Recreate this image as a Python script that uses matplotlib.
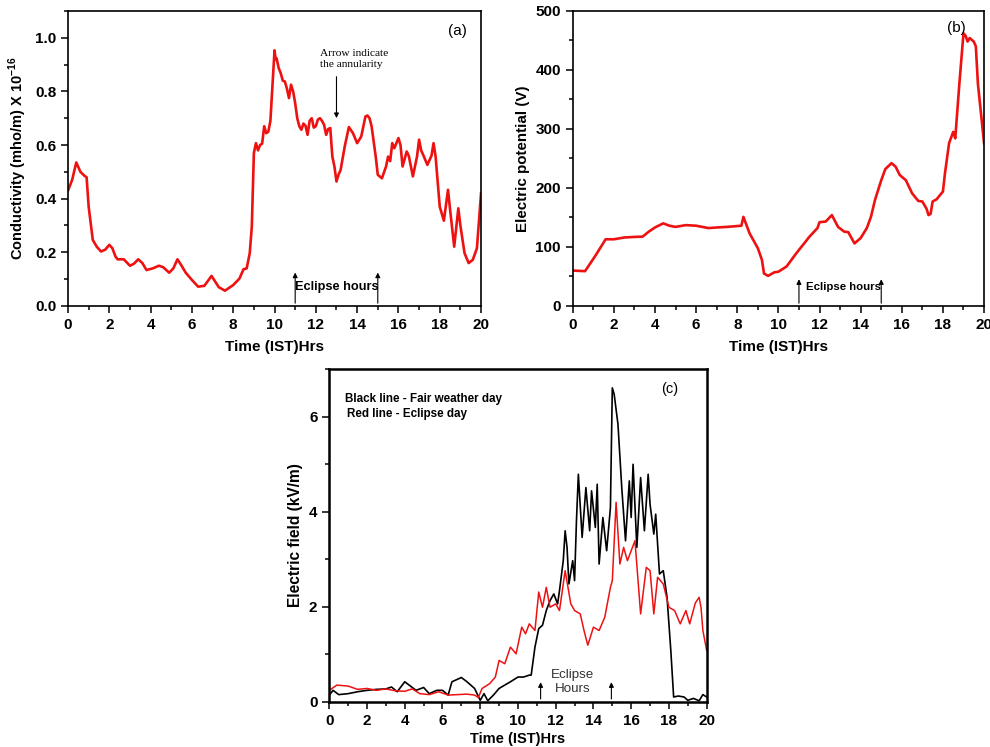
""" Conductivity, potential and field during the eclipse day (three panels). """

import numpy as np
import matplotlib.pyplot as plt
from matplotlib.ticker import MultipleLocator

plt.rcParams['font.family'] = ['Liberation Sans', 'DejaVu Sans']
plt.rcParams['mathtext.fontset'] = 'custom'
plt.rcParams['mathtext.rm'] = 'Liberation Sans'
plt.rcParams['mathtext.bf'] = 'Liberation Sans:bold'

# panel (a) conductivity
t_cond = [0.0, 0.2, 0.4, 0.6, 0.8, 0.9, 1.0, 1.2, 1.4, 1.6, 1.8, 2.0, 2.15, 2.3, 2.4, 2.7, 3.0,
          3.2, 3.4, 3.6, 3.8, 4.1, 4.4, 4.6, 4.9, 5.1, 5.3, 5.5, 5.7, 6.0, 6.3, 6.6, 6.95,
          7.3, 7.6, 8.0, 8.3, 8.5, 8.65, 8.8, 8.9, 9.0, 9.1, 9.2, 9.3, 9.4, 9.5, 9.6, 9.7,
          9.8, 9.9, 10.0, 10.05, 10.1, 10.2, 10.3, 10.4, 10.5, 10.6, 10.7, 10.8, 10.9, 11.0,
          11.1, 11.2, 11.3, 11.4, 11.5, 11.6, 11.7, 11.8, 11.9, 12.0, 12.1, 12.2, 12.3, 12.4,
          12.5, 12.6, 12.7, 12.8, 12.9, 13.0, 13.1, 13.2, 13.4, 13.6, 13.8, 14.0, 14.2, 14.4,
          14.5, 14.6, 14.7, 14.9, 15.0, 15.2, 15.4, 15.5, 15.6, 15.7, 15.8, 16.0, 16.1, 16.2,
          16.4, 16.5, 16.7, 16.9, 17.0, 17.1, 17.2, 17.4, 17.6, 17.7, 17.8, 18.0, 18.2, 18.4,
          18.5, 18.7, 18.9, 19.0, 19.2, 19.4, 19.6, 19.8, 20.0]
cond = [0.43, 0.47, 0.535, 0.50, 0.485, 0.48, 0.37, 0.246, 0.22, 0.203, 0.21, 0.228, 0.215,
        0.184, 0.174, 0.174, 0.15, 0.158, 0.174, 0.16, 0.134, 0.14, 0.15, 0.145, 0.124, 0.14,
        0.174, 0.15, 0.124, 0.097, 0.072, 0.075, 0.112, 0.07, 0.057, 0.078, 0.102, 0.137,
        0.14, 0.197, 0.296, 0.57, 0.607, 0.58, 0.60, 0.605, 0.67, 0.644, 0.65, 0.69, 0.82,
        0.953, 0.92, 0.924, 0.887, 0.868, 0.84, 0.837, 0.81, 0.775, 0.825, 0.80, 0.756, 0.70,
        0.67, 0.657, 0.68, 0.672, 0.638, 0.69, 0.70, 0.665, 0.67, 0.695, 0.70, 0.69, 0.675,
        0.638, 0.66, 0.663, 0.557, 0.52, 0.464, 0.49, 0.507, 0.595, 0.667, 0.644, 0.607,
        0.632, 0.706, 0.71, 0.70, 0.67, 0.557, 0.489, 0.476, 0.52, 0.557, 0.54, 0.607, 0.588,
        0.626, 0.60, 0.52, 0.576, 0.56, 0.483, 0.557, 0.62, 0.58, 0.563, 0.526, 0.56, 0.607,
        0.557, 0.37, 0.318, 0.433, 0.36, 0.221, 0.364, 0.30, 0.197, 0.16, 0.172, 0.215, 0.42]

# panel (b) electric potential
t_pot = [0.0, 0.6, 1.1, 1.6, 2.0, 2.5, 3.0, 3.4, 3.7, 4.0, 4.4, 4.7, 5.0, 5.5, 6.0, 6.6,
         7.0, 7.5, 8.2, 8.3, 8.6, 9.0, 9.2, 9.3, 9.5, 9.8, 10.0, 10.4, 10.8, 11.0, 11.3,
         11.5, 11.9, 12.0, 12.3, 12.6, 12.9, 13.2, 13.4, 13.7, 14.0, 14.3, 14.5, 14.7, 15.0,
         15.2, 15.5, 15.7, 15.9, 16.2, 16.5, 16.8, 17.0, 17.2, 17.3, 17.4, 17.5, 17.7, 18.0,
         18.1, 18.3, 18.5, 18.6, 18.8, 19.0, 19.1, 19.2, 19.3, 19.5, 19.6, 19.7, 20.0]
pot = [60, 59, 85, 113, 113, 116, 117, 117.5, 126, 133, 140, 136, 134, 137, 136, 132,
       133, 134, 136, 151, 123, 98, 78, 55, 51, 57, 58, 67, 86, 95, 108, 117, 132, 142,
       143, 154, 134, 126, 125, 106, 115, 132, 151, 180, 213, 232, 242, 236, 222, 213,
       191, 178, 177, 165, 154, 156, 177, 181, 194, 225, 276, 295, 284, 377, 462, 458,
       448, 454, 448, 440, 377, 276]

# panel (c) electric field
t_fair = [0.0, 0.2, 0.5, 1.0, 1.5, 2.0, 2.5, 3.0, 3.3, 3.6, 4.0, 4.3, 4.6, 5.0, 5.3, 5.7,
          6.0, 6.3, 6.5, 7.0, 7.3, 7.7, 8.0, 8.2, 8.4, 8.7, 9.0, 9.3, 9.6, 10.0, 10.3, 10.6,
          10.7, 10.9, 11.1, 11.3, 11.5, 11.7, 11.9, 12.1, 12.2, 12.4, 12.5, 12.6, 12.7, 12.9,
          13.0, 13.1, 13.2, 13.4, 13.6, 13.8, 13.9, 14.1, 14.2, 14.3, 14.5, 14.7, 14.9, 15.0,
          15.1, 15.3, 15.5, 15.7, 15.9, 16.0, 16.1, 16.3, 16.5, 16.7, 16.9, 17.0, 17.2, 17.3,
          17.5, 17.7, 17.9, 18.0, 18.1, 18.25, 18.5, 18.8, 19.0, 19.3, 19.6, 19.8, 20.0]
field_fair = [0.14, 0.24, 0.15, 0.17, 0.21, 0.24, 0.26, 0.27, 0.31, 0.21, 0.42, 0.33, 0.24,
              0.30, 0.17, 0.24, 0.24, 0.14, 0.42, 0.51, 0.42, 0.28, 0.03, 0.17, 0.02, 0.14,
              0.28, 0.35, 0.42, 0.52, 0.52, 0.56, 0.56, 1.15, 1.54, 1.61, 1.92, 2.13, 2.27,
              2.06, 2.34, 2.97, 3.6, 3.25, 2.48, 2.97, 2.55, 3.81, 4.79, 3.46, 4.51, 3.6, 4.44,
              3.67, 4.58, 2.90, 3.88, 3.18, 4.09, 6.61, 6.47, 5.84, 4.51, 3.39, 4.65, 3.88, 5.0,
              3.25, 4.72, 3.6, 4.79, 4.16, 3.53, 3.95, 2.69, 2.76, 2.2, 1.64, 1.08, 0.1, 0.12,
              0.1, 0.03, 0.07, 0.02, 0.15, 0.10]
t_ecl = [0.0, 0.4, 1.0, 1.5, 2.0, 2.5, 3.0, 3.5, 4.0, 4.4, 4.8, 5.3, 5.8, 6.3, 6.8, 7.3,
         7.7, 7.9, 8.1, 8.5, 8.8, 9.0, 9.3, 9.6, 9.9, 10.2, 10.4, 10.6, 10.9, 11.1, 11.3,
         11.5, 11.7, 12.0, 12.2, 12.5, 12.8, 13.0, 13.3, 13.5, 13.7, 14.0, 14.3, 14.6, 14.9,
         15.0, 15.2, 15.4, 15.6, 15.8, 16.0, 16.2, 16.5, 16.8, 17.0, 17.2, 17.4, 17.7, 18.0,
         18.3, 18.6, 18.9, 19.1, 19.4, 19.6, 19.7, 19.8, 20.0]
field_ecl = [0.24, 0.35, 0.33, 0.26, 0.28, 0.24, 0.27, 0.23, 0.22, 0.27, 0.17, 0.15, 0.21,
             0.14, 0.15, 0.16, 0.14, 0.09, 0.28, 0.38, 0.52, 0.87, 0.80, 1.15, 1.01, 1.57,
             1.43, 1.64, 1.50, 2.31, 1.99, 2.41, 1.99, 2.06, 1.92, 2.76, 2.06, 1.92, 1.85,
             1.50, 1.19, 1.57, 1.50, 1.78, 2.41, 2.55, 4.2, 2.90, 3.25, 2.97, 3.18, 3.39,
             1.85, 2.83, 2.76, 1.85, 2.62, 2.48, 1.99, 1.92, 1.64, 1.92, 1.64, 2.08, 2.2,
             1.99, 1.50, 1.08]

RED = '#ee1111'


def style_axis(ax, ylim, ymajor, yminor, spine_w=1.2, xlabel_size=11):
    ax.set_xlim(0, 20)
    ax.set_ylim(*ylim)
    ax.xaxis.set_major_locator(MultipleLocator(2))
    ax.xaxis.set_minor_locator(MultipleLocator(1))
    ax.yaxis.set_major_locator(MultipleLocator(ymajor))
    ax.yaxis.set_minor_locator(MultipleLocator(yminor))
    ax.tick_params(which='both', direction='out', top=False, right=False,
                   labelsize=11, width=1.1)
    ax.tick_params(which='major', length=5)
    ax.tick_params(which='minor', length=3)
    for lab in ax.get_xticklabels() + ax.get_yticklabels():
        lab.set_fontweight('bold')
    for sp in ax.spines.values():
        sp.set_linewidth(spine_w)
    ax.set_xlabel('Time (IST)Hrs', fontsize=xlabel_size, fontweight='bold', labelpad=6)


def eclipse_arrows(ax, x1, x2, top):
    for x in (x1, x2):
        ax.annotate('', xy=(x, top), xytext=(x, ax.get_ylim()[0]),
                    arrowprops=dict(arrowstyle='-|>', color='black', lw=0.8,
                                    mutation_scale=7))


def main():
    fig = plt.figure(figsize=(9.9, 7.47), dpi=100)

    ax_a = fig.add_axes([0.0687, 0.5904, 0.4172, 0.395])
    ax_a.plot(t_cond, cond, color=RED, lw=1.9)
    style_axis(ax_a, (0, 1.1), 0.2, 0.1)
    ax_a.yaxis.set_major_formatter(plt.FormatStrFormatter('%.1f'))
    for lab in ax_a.get_yticklabels():
        lab.set_fontweight('bold')
    ax_a.set_ylabel(r'Conductivity (mho/m) X 10$^{\mathbf{-16}}$', fontsize=10.5,
                    fontweight='bold')
    ax_a.text(18.4, 1.01, '(a)', fontsize=11)
    ax_a.text(12.2, 0.89, 'Arrow indicate\nthe annularity', fontsize=8.2,
              family='Liberation Serif', linespacing=1.35)
    ax_a.annotate('', xy=(13, 0.69), xytext=(13, 0.865),
                  arrowprops=dict(arrowstyle='-|>', color='black', lw=0.8, mutation_scale=7))
    eclipse_arrows(ax_a, 11, 15, 0.135)
    ax_a.text(13.0, 0.072, 'Eclipse hours', fontsize=9.2, fontweight='bold',
              ha='center', va='center')

    ax_b = fig.add_axes([0.5785, 0.5904, 0.4155, 0.395])
    ax_b.plot(t_pot, pot, color=RED, lw=1.9)
    style_axis(ax_b, (0, 500), 100, 50)
    ax_b.set_ylabel('Electric potential (V)', fontsize=10.9, fontweight='bold')
    ax_b.text(18.2, 465, '(b)', fontsize=11)
    eclipse_arrows(ax_b, 11, 15, 50)
    ax_b.text(13.15, 32, 'Eclipse hours', fontsize=8.2, fontweight='bold',
              ha='center', va='center')

    ax_c = fig.add_axes([0.3326, 0.0606, 0.3812, 0.445])
    ax_c.plot(t_fair, field_fair, color='black', lw=1.2)
    ax_c.plot(t_ecl, field_ecl, color=RED, lw=1.1)
    style_axis(ax_c, (0, 7), 2, 1, spine_w=1.8, xlabel_size=10.5)
    ax_c.xaxis.labelpad = 3
    ax_c.set_ylabel('Electric field (kV/m)', fontsize=11.2, fontweight='bold')
    ax_c.text(17.6, 6.5, '(c)', fontsize=10.5)
    ax_c.text(0.85, 6.37, 'Black line - Fair weather day', fontsize=8.4,
              fontweight='bold', va='center')
    ax_c.text(0.95, 6.05, 'Red line - Eclipse day', fontsize=8.4,
              fontweight='bold', va='center')
    eclipse_arrows(ax_c, 11.2, 14.95, 0.47)
    ax_c.text(12.9, 0.42, 'Eclipse\nHours', fontsize=9.6, ha='center', va='center',
              linespacing=1.25, color='#333333')

    fig.savefig('out.png', dpi=100)


if __name__ == "__main__":
    main()
